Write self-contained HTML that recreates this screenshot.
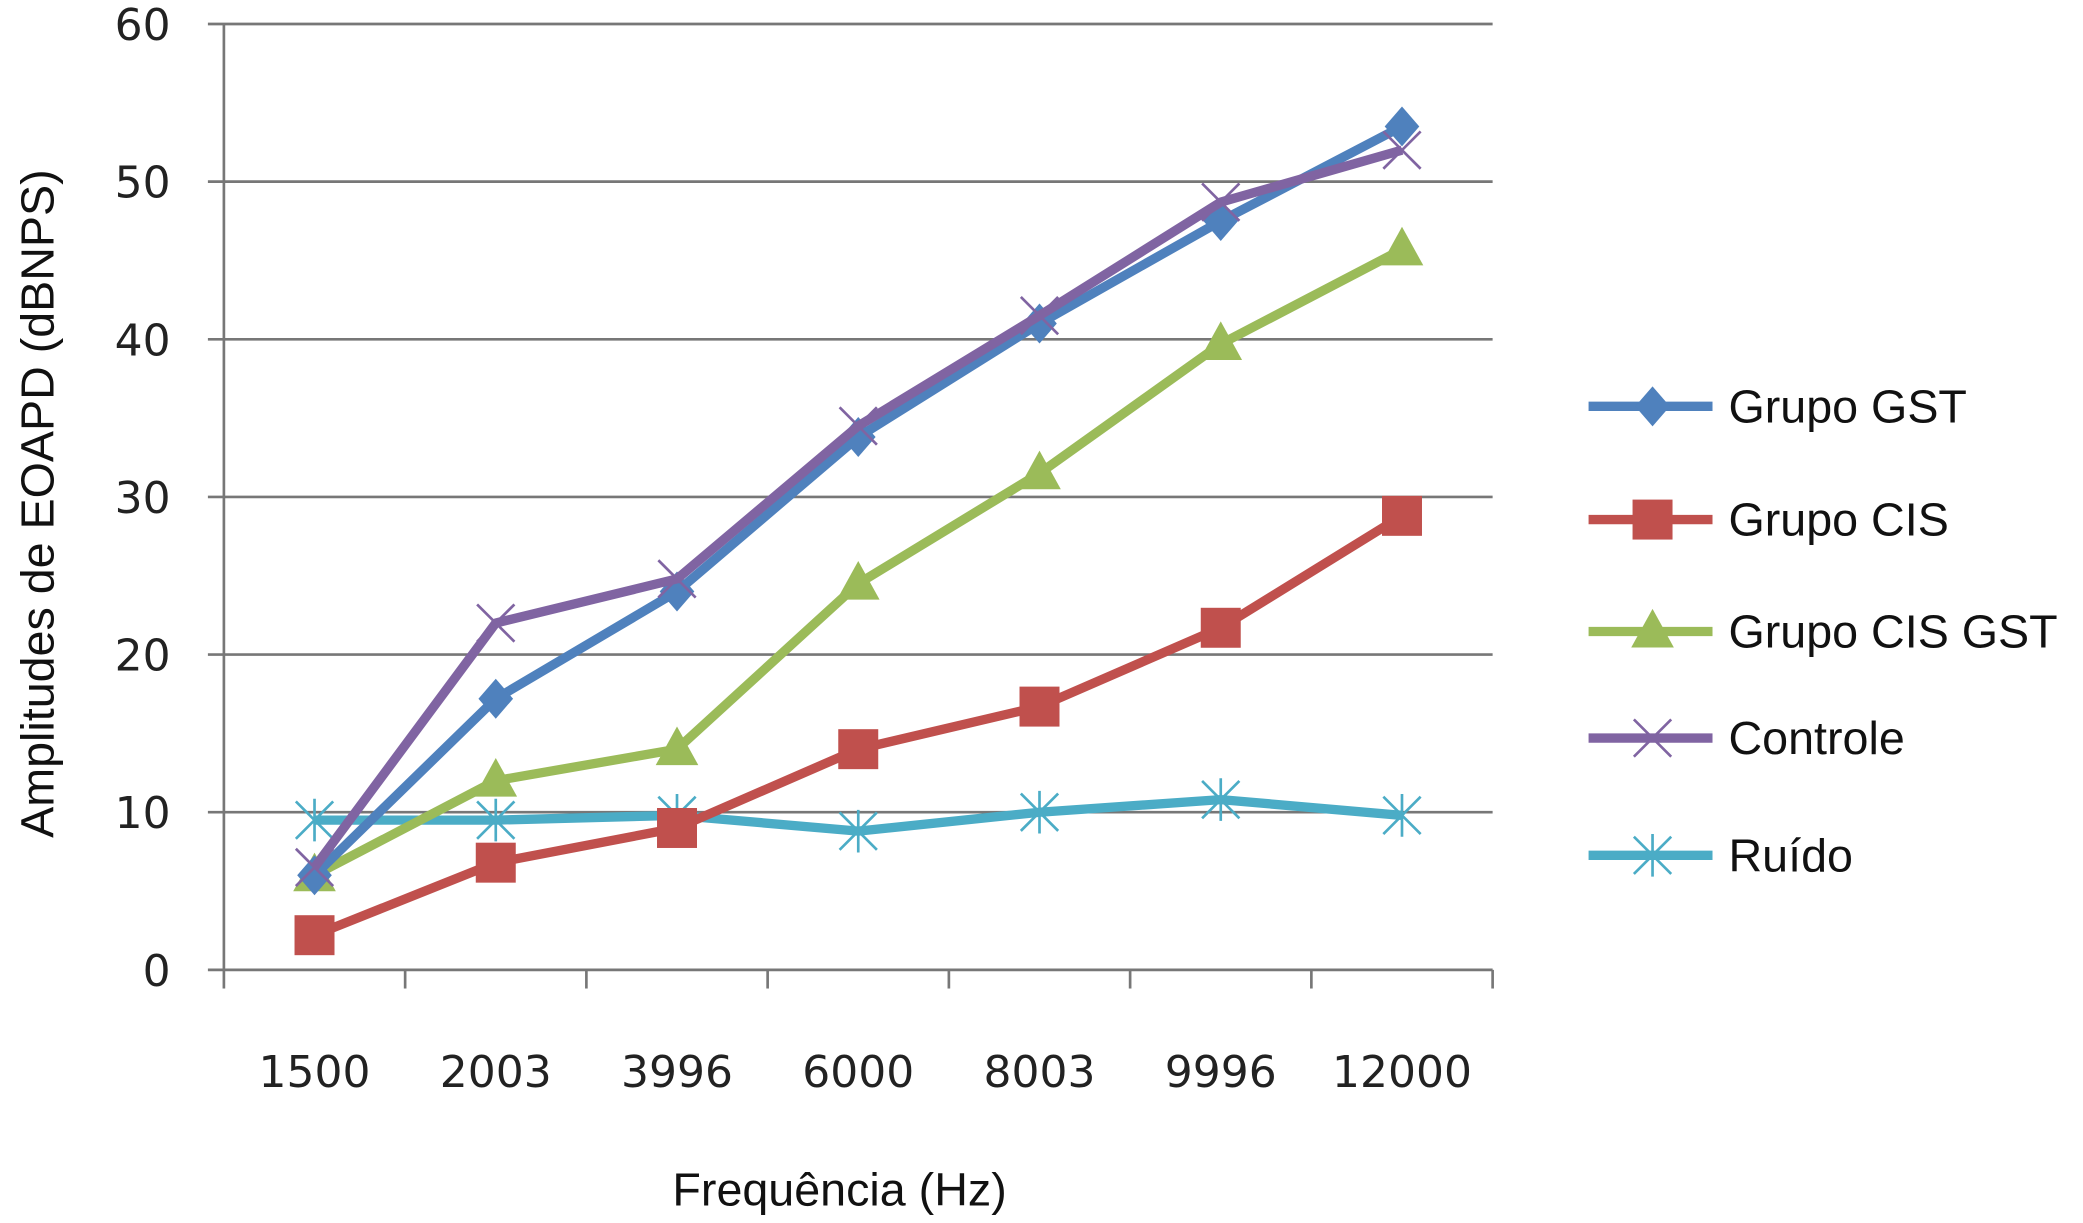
<!DOCTYPE html>
<html><head><meta charset="utf-8"><style>
html,body{margin:0;padding:0;background:#fff;}
svg{display:block;font-family:"Liberation Sans",sans-serif;}
</style></head><body>
<svg id="chart" width="2083" height="1223" viewBox="0 0 1563 918" preserveAspectRatio="none">
<g id="grid"></g>
<g id="axes"></g>
<g id="series"></g>
<g id="legend"></g>
<text x="630" y="905" font-size="35" text-anchor="middle" fill="#111">Frequência (Hz)</text>
<text transform="translate(40,378) rotate(-90)" font-size="35" text-anchor="middle" fill="#111">Amplitudes de EOAPD (dBNPS)</text>
</svg>
<script>
const categories = ["1500","2003","3996","6000","8003","9996","12000"];
const yTicks = [0,10,20,30,40,50,60];
const seriesNames = ["Grupo GST","Grupo CIS","Grupo CIS GST","Controle","Ruído"];
const gst = [6, 17.2, 24, 33.8, 41, 47.5, 53.5];
const cis = [2.2, 6.8, 9, 14, 16.7, 21.7, 28.8];
const cisGst = [6, 12, 14, 24.5, 31.5, 39.7, 45.7];
const controle = [6.5, 22, 24.8, 34.5, 41.5, 48.7, 52];
const ruido = [9.5, 9.5, 9.8, 8.8, 10, 10.8, 9.8];

const NS="http://www.w3.org/2000/svg";
const X0=168, X1=1120, Y0=728, Y1=18;
const band=(X1-X0)/categories.length;
function xs(i){return X0+band*(i+0.5);}
function ys(v){return Y0-(v/60)*(Y0-Y1);}
function mk(tag,attrs,parent){const e=document.createElementNS(NS,tag);for(const k in attrs)e.setAttribute(k,attrs[k]);parent.appendChild(e);return e;}
const grid=document.getElementById('grid'),axes=document.getElementById('axes'),ser=document.getElementById('series'),leg=document.getElementById('legend');
const tickFont='"DejaVu Sans", "Liberation Sans", sans-serif';

yTicks.forEach(t=>{
  const y=ys(t);
  if(t>0){const l=mk('line',{x1:X0-12,x2:X1,y1:y,y2:y,stroke:'#777','stroke-width':2},grid);
  
  }
  const tx=mk('text',{x:128,y:y+12,'font-size':33,'text-anchor':'end',fill:'#222','font-family':tickFont},axes);
  tx.textContent=t;
  
  
});
let a=mk('line',{x1:X0,x2:X0,y1:Y1,y2:Y0,stroke:'#777','stroke-width':2},axes);


a=mk('line',{x1:X0-12,x2:X1,y1:Y0,y2:Y0,stroke:'#777','stroke-width':2},axes);


for(let i=0;i<=categories.length;i++){
  const x=X0+band*i;
  const t=mk('line',{x1:x,x2:x,y1:Y0,y2:Y0+14,stroke:'#777','stroke-width':2},axes);
  
  
}
categories.forEach((c,i)=>{
  const t=mk('text',{x:xs(i),y:816,'font-size':33,'text-anchor':'middle',fill:'#222','font-family':tickFont},axes);
  t.textContent=c;
  
  
});

function marker(kind,x,y,color,g){
  let m;
  if(kind==='diamond') m=mk('polygon',{points:`${x},${y-15} ${x+13},${y} ${x},${y+15} ${x-13},${y}`,fill:color},g);
  else if(kind==='square') m=mk('rect',{x:x-15,y:y-15,width:30,height:30,fill:color},g);
  else if(kind==='triangle') m=mk('polygon',{points:`${x},${y-17} ${x+16},${y+12} ${x-16},${y+12}`,fill:color},g);
  else if(kind==='x') m=mk('path',{d:`M${x-14},${y-14}L${x+14},${y+14}M${x-14},${y+14}L${x+14},${y-14}`,stroke:color,'stroke-width':2,fill:'none'},g);
  else m=mk('path',{d:`M${x-14},${y-14}L${x+14},${y+14}M${x-14},${y+14}L${x+14},${y-14}M${x},${y-16}L${x},${y+16}`,stroke:color,'stroke-width':2,fill:'none'},g);
  
  
}
const defs=[
  {name:seriesNames[4],data:ruido,color:'#4bacc6',kind:'star'},
  {name:seriesNames[1],data:cis,color:'#c0504d',kind:'square'},
  {name:seriesNames[2],data:cisGst,color:'#9bbb59',kind:'triangle'},
  {name:seriesNames[0],data:gst,color:'#4f81bd',kind:'diamond'},
  {name:seriesNames[3],data:controle,color:'#8064a2',kind:'x'}
];
defs.forEach(s=>{
  const g=mk('g',{},ser);
  
  
  const pts=s.data.map((v,i)=>xs(i)+','+ys(v)).join(' ');
  const p=mk('polyline',{points:pts,fill:'none',stroke:s.color,'stroke-width':7,'stroke-linejoin':'round'},g);
  
  
  s.data.forEach((v,i)=>marker(s.kind,xs(i),ys(v),s.color,g));
});
const legendOrder=[3,1,2,4,0];
const legY=[305,390,474,554,642];
legendOrder.forEach((di,k)=>{
  const s=defs[di],y=legY[k];
  const g=mk('g',{},leg);
  
  
  mk('line',{x1:1192,x2:1285,y1:y,y2:y,stroke:s.color,'stroke-width':7},g);
  marker(s.kind,1240,y,s.color,g);
  const t=mk('text',{x:1297,y:y+12,'font-size':35,fill:'#111'},g);
  t.textContent=s.name;
  
  
});
</script>
</body></html>
